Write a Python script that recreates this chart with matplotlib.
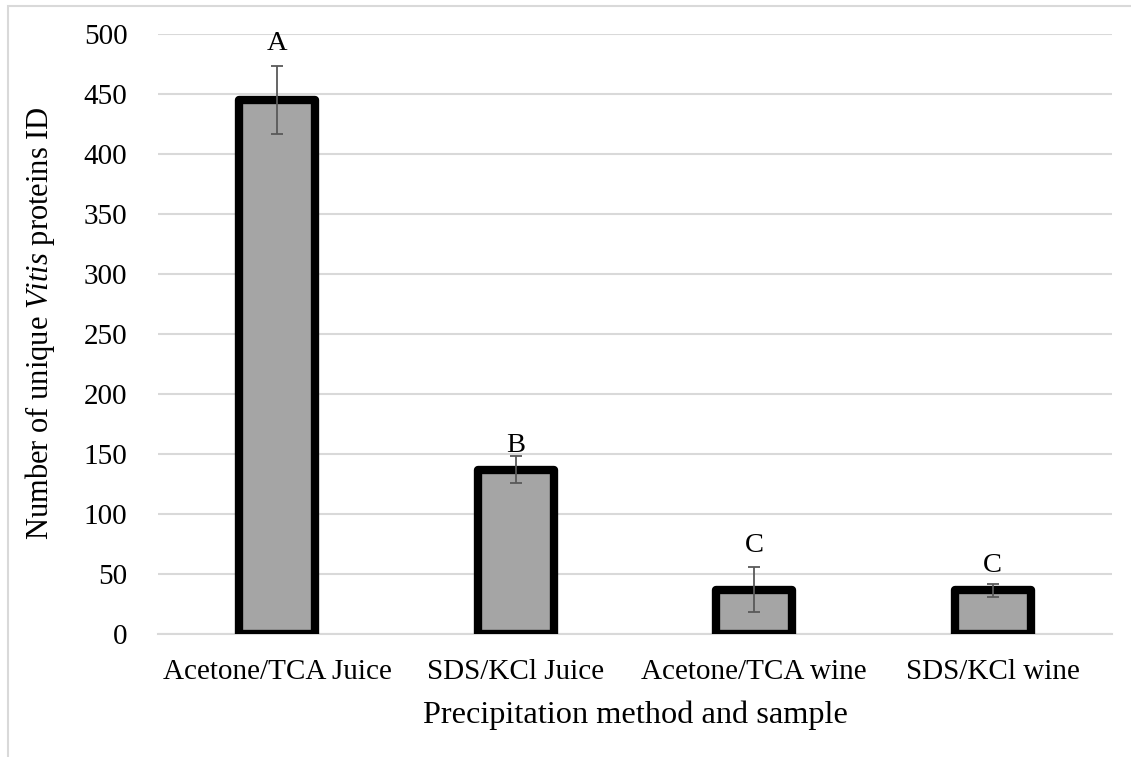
import matplotlib
matplotlib.use("Agg")
import matplotlib.pyplot as plt
from matplotlib.patches import Rectangle

categories = ["Acetone/TCA Juice", "SDS/KCl Juice", "Acetone/TCA wine", "SDS/KCl wine"]
means = [445, 137, 37, 36.5]
errors = [28, 11.5, 19, 5.5]
letters = ["A", "B", "C", "C"]
yticks = [0, 50, 100, 150, 200, 250, 300, 350, 400, 450, 500]

plt.rcParams['font.family'] = ['Liberation Serif', 'DejaVu Serif']
plt.rcParams['mathtext.fontset'] = 'custom'
plt.rcParams['mathtext.rm'] = 'Liberation Serif'
plt.rcParams['mathtext.it'] = 'Liberation Serif:italic'

W, H = 1131, 757
fig = plt.figure(figsize=(W / 100, H / 100), dpi=100)
ax = fig.add_axes([158 / W, 1 - 634 / H, (1112 - 158) / W, 600 / H])

# outer frame
fig.patches.append(Rectangle((7.5 / W, -0.1), 2, 1.1 - 5.5 / H, transform=fig.transFigure,
                             fill=False, edgecolor='#d9d9d9', linewidth=1.5))

x = list(range(len(categories)))
bars = ax.bar(x, means, width=0.32, color='#a5a5a5', edgecolor='black', linewidth=6.0,
              zorder=3)
for b in bars:
    b.set_joinstyle('round')
ax.errorbar(x, means, yerr=errors, fmt='none', ecolor='#595959', elinewidth=1.3,
            capsize=4.6, capthick=1.3, zorder=4)

letter_offsets = [12, 3, 11, 8]  # points above error bar top
for xi, m, e, lab, off in zip(x, means, errors, letters, letter_offsets):
    ax.annotate(lab, (xi, m + e), xytext=(0, off), textcoords='offset points',
                ha='center', va='baseline', fontsize=20.5, zorder=5)

ax.set_xlim(-0.5, len(categories) - 0.5)
ax.set_ylim(0, 500)
ax.set_yticks(yticks)
ax.set_xticks(x)
ax.set_xticklabels(categories)
ax.tick_params(axis='both', length=0, labelsize=21)
ax.tick_params(axis='y', pad=22)
ax.tick_params(axis='x', pad=18)
ax.yaxis.grid(True, color='#d9d9d9', linewidth=1.5, zorder=0)
ax.set_axisbelow(True)
for s in ['top', 'right', 'left']:
    ax.spines[s].set_visible(False)
ax.spines['bottom'].set_color('#d9d9d9')
ax.spines['bottom'].set_linewidth(1.5)

ax.set_xlabel("Precipitation method and sample", fontsize=23.3)
ax.set_ylabel(r"Number of unique $\it{Vitis}$ proteins ID", fontsize=22)
ax.xaxis.set_label_coords(0.5, -(715 - 634) / 600, transform=ax.transAxes)
ax.xaxis.label.set_va('center')
ax.yaxis.set_label_coords(-(158 - 40) / 954, (634 - 323) / 600, transform=ax.transAxes)
ax.yaxis.label.set_va('center')

fig.savefig("out.png", dpi=100)
